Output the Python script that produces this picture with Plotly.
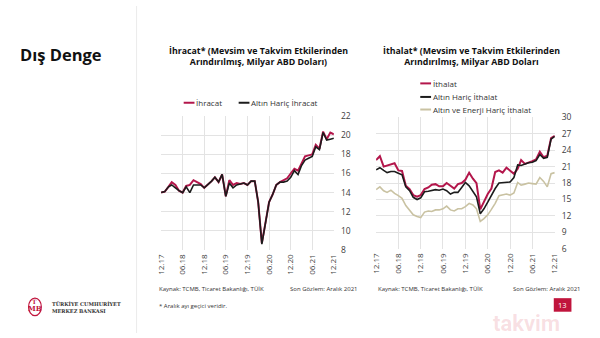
import pandas as pd
import plotly.graph_objects as go

# ---- data (monthly, 12.17 .. 12.21) ----
months = pd.date_range("2017-12-01", periods=49, freq="MS")

ihracat = [14.0, 14.1, 14.6, 15.1, 14.8, 14.2, 14.0, 14.7, 14.8, 15.3, 15.1, 14.9,
           14.5, 14.8, 15.2, 15.6, 15.1, 15.9, 13.6, 15.3, 14.8, 15.0, 14.9, 15.0,
           14.8, 15.2, 15.2, 13.0, 8.7, 10.8, 13.0, 13.8, 14.8, 15.1, 15.3, 15.5,
           16.0, 16.5, 16.3, 17.0, 17.8, 17.9, 18.0, 19.0, 18.6, 20.4, 19.6, 20.3, 20.1]
altin_haric_ihracat = [14.0, 14.1, 14.6, 14.8, 14.5, 14.2, 14.0, 14.6, 14.0, 14.8, 14.8, 14.8,
                       14.5, 14.8, 15.2, 15.6, 15.1, 15.9, 13.6, 15.0, 14.5, 14.8, 14.9, 15.0,
                       14.8, 15.2, 15.2, 13.0, 8.6, 10.8, 13.0, 13.8, 14.8, 15.1, 15.1, 15.2,
                       15.6, 16.3, 15.9, 16.8, 17.4, 17.6, 17.8, 18.8, 18.5, 20.3, 19.5, 19.6, 19.7]

ithalat = [22.2, 22.9, 21.0, 21.2, 21.4, 21.6, 20.3, 20.2, 17.5, 16.9, 15.8, 15.5,
           15.8, 16.9, 17.2, 17.7, 17.8, 17.4, 17.4, 18.0, 17.5, 17.0, 17.8, 18.0,
           18.6, 19.9, 18.8, 18.0, 13.2, 14.5, 16.0, 17.0, 20.0, 20.3, 19.9, 20.8,
           20.3, 19.7, 20.6, 22.2, 21.5, 21.7, 22.0, 22.3, 23.7, 22.7, 23.0, 26.2, 26.6]
altin_haric_ithalat = [20.4, 20.8, 20.3, 19.9, 20.1, 20.1, 19.8, 19.5, 17.3, 16.6, 15.4, 15.0,
                       15.3, 16.4, 16.5, 16.6, 16.8, 16.7, 16.9, 16.6, 16.0, 16.3, 16.3, 17.2,
                       18.1, 17.5, 16.5, 15.5, 12.4, 13.3, 14.5, 15.8, 17.0, 18.0, 18.1, 18.2,
                       18.2, 19.0, 21.3, 21.2, 21.5, 21.7, 21.8, 22.1, 23.2, 22.5, 22.7, 26.0, 26.5]
altin_enerji_haric_ithalat = [16.8, 17.3, 16.6, 16.3, 16.7, 16.1, 15.7, 15.2, 13.9, 13.0, 12.2, 11.9,
                              11.7, 12.7, 12.9, 12.8, 13.1, 13.1, 13.3, 13.8, 13.1, 12.9, 13.3, 13.3,
                              13.7, 14.3, 14.0, 13.3, 11.0, 11.5, 12.2, 13.2, 14.3, 15.7, 15.9, 16.0,
                              15.8, 16.2, 18.1, 17.6, 17.8, 18.0, 17.9, 17.8, 19.0, 18.3, 17.3, 19.7, 19.9]

tick_dates = pd.date_range("2017-12-01", periods=9, freq="6MS")
tick_labels = ["12.17", "06.18", "12.18", "06.19", "12.19", "06.20", "12.20", "06.21", "12.21"]

RED = "#b3164b"
BLACK = "#1c1c1c"
BEIGE = "#c9c2a2"
GRID = "#e3e3e3"
FONT = "Open Sans"
W, H = 600, 338

def px(x):
    return x / W

def py(y):
    return 1 - y / H

fig = go.Figure()
fig.add_trace(go.Scatter(x=months, y=ihracat, mode="lines", name="İhracat",
                         line=dict(color=RED, width=2), xaxis="x", yaxis="y"))
fig.add_trace(go.Scatter(x=months, y=altin_haric_ihracat, mode="lines", name="Altın Hariç İhracat",
                         line=dict(color=BLACK, width=1.6), xaxis="x", yaxis="y"))
fig.add_trace(go.Scatter(x=months, y=altin_enerji_haric_ithalat, mode="lines",
                         name="Altın ve Enerji Hariç İthalat",
                         line=dict(color=BEIGE, width=1.6), xaxis="x2", yaxis="y2"))
fig.add_trace(go.Scatter(x=months, y=ithalat, mode="lines", name="İthalat",
                         line=dict(color=RED, width=2), xaxis="x2", yaxis="y2"))
fig.add_trace(go.Scatter(x=months, y=altin_haric_ithalat, mode="lines", name="Altın Hariç İthalat",
                         line=dict(color=BLACK, width=1.6), xaxis="x2", yaxis="y2"))

xcommon = dict(type="date", range=[months[0], months[-1]], tickvals=list(tick_dates),
               ticktext=tick_labels, tickangle=-90, showgrid=True, gridcolor=GRID,
               gridwidth=1, zeroline=False, showline=False, ticks="",
               tickfont=dict(family=FONT, size=8, color="#404040"), ticklabelstandoff=2)
ycommon = dict(side="right", showgrid=True, gridcolor=GRID, gridwidth=1, zeroline=False,
               showline=False, ticks="", tickfont=dict(family=FONT, size=8.5, color="#404040"),
               ticklabelstandoff=6)

fig.update_layout(
    width=W, height=H, margin=dict(l=0, r=0, t=0, b=0),
    paper_bgcolor="white", plot_bgcolor="white", showlegend=False,
    font=dict(family=FONT, color="#222"),
    xaxis=dict(domain=[px(158), px(334)], anchor="y", **xcommon),
    yaxis=dict(domain=[py(252), py(114)], anchor="x", range=[8, 22], dtick=2, **ycommon),
    xaxis2=dict(domain=[px(377), px(559)], anchor="y2", **xcommon),
    yaxis2=dict(domain=[py(251), py(115)], anchor="x2", range=[6, 30], dtick=3, **ycommon),
)

shapes = [dict(type="line", xref="paper", yref="paper", x0=px(133), x1=px(133), y0=0, y1=1,
               line=dict(color="#ececec", width=1))]
ann = []

def text(x, y, s, size, color="#222", bold=False, xanchor="left", family=FONT, **kw):
    ann.append(dict(xref="paper", yref="paper", x=px(x), y=py(y), text=(f"<b>{s}</b>" if bold else s),
                    showarrow=False, xanchor=xanchor, yanchor="middle",
                    font=dict(family=family, size=size, color=color), **kw))

def legend_item(x, y, label, color, lw=2):
    shapes.append(dict(type="line", xref="paper", yref="paper", x0=px(x), x1=px(x + 11),
                       y0=py(y), y1=py(y), line=dict(color=color, width=lw)))
    text(x + 11, y, label, 8, color="#333")

# headings
text(12, 50, "Dış Denge", 16.5, color="#111", bold=True)
text(257, 52, "İhracat* (Mevsim ve Takvim Etkilerinden<br>Arındırılmış, Milyar ABD Doları)",
     8.8, color="#111", bold=True, xanchor="center")
text(474, 52, "İthalat* (Mevsim ve Takvim Etkilerinden<br>Arındırılmış, Milyar ABD Doları",
     8.8, color="#111", bold=True, xanchor="center")

# legends
legend_item(181, 100, "İhracat", RED)
legend_item(237, 100, "Altın Hariç İhracat", BLACK)
legend_item(422, 80, "İthalat", RED)
legend_item(422, 94, "Altın Hariç İthalat", BLACK)
legend_item(422, 107, "Altın ve Enerji Hariç İthalat", BEIGE)

# footers
text(154, 293, "Kaynak: TCMB, Ticaret Bakanlığı, TÜİK", 6, color="#333")
text(287, 293, "Son Gözlem: Aralık 2021", 6, color="#333")
text(377, 293, "Kaynak: TCMB, Ticaret Bakanlığı, TÜİK", 6, color="#333")
text(514, 293, "Son Gözlem: Aralık 2021", 6, color="#333")
text(154, 310, "* Aralık ayı geçici veridir.", 6, color="#333")

# logo
shapes.append(dict(type="circle", xref="paper", yref="paper", x0=px(23), x1=px(36), y0=py(320), y1=py(302),
                   line=dict(color="#c0143c", width=1.2)))
text(29.5, 313, "MB", 7, color="#c0143c", bold=True, xanchor="center", family="DejaVu Serif")
text(29.5, 305.5, "T", 6, color="#c0143c", bold=True, xanchor="center", family="DejaVu Serif")
text(45, 312, "TÜRKİYE CUMHURİYET<br>MERKEZ BANKASI", 5, color="#333", bold=True,
     family="DejaVu Serif", align="left")

# watermark + page number
text(530, 328, "takvim", 22, color="rgba(214,60,80,0.16)", bold=True, xanchor="center", family="Roboto")
shapes.append(dict(type="rect", xref="paper", yref="paper", x0=px(558), x1=px(576), y0=py(316), y1=py(302),
                   fillcolor="#c0143c", line=dict(width=0)))
text(567, 309, "13", 7.5, color="white", xanchor="center")

fig.update_layout(shapes=shapes, annotations=ann)
fig.write_html("out.html")
